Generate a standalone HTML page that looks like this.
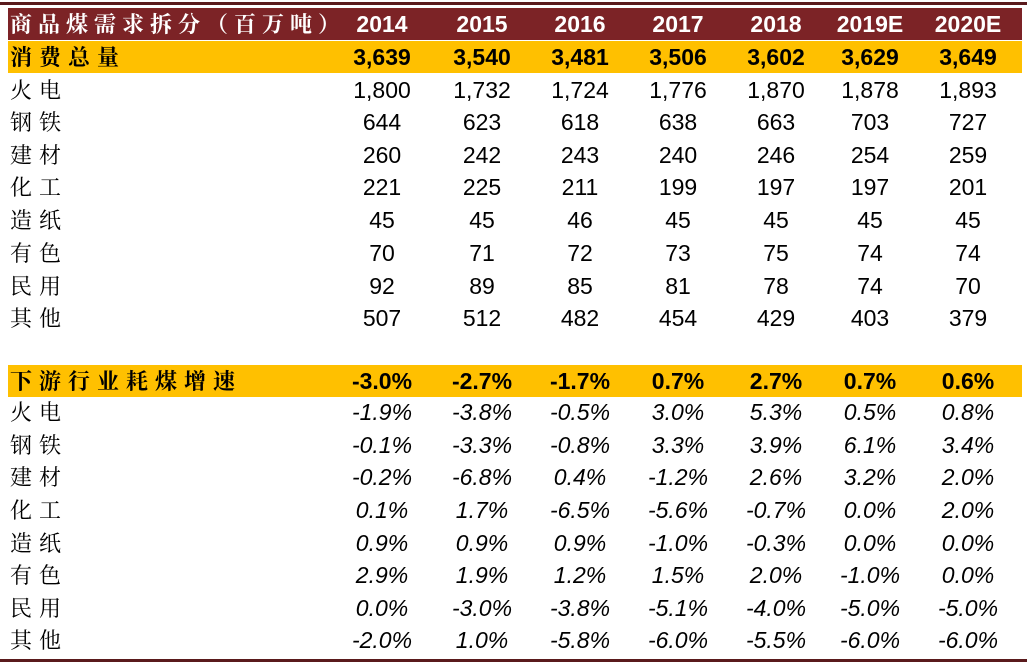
<!DOCTYPE html>
<html><head><meta charset="utf-8"><style>
body{margin:0;width:1027px;height:665px;background:#fff;position:relative;overflow:hidden;font-family:"Liberation Sans",Arial,sans-serif;}
.line{position:absolute;left:0;width:1027px;background:#5a1a1c;}
.bar{position:absolute;left:8px;width:1014px;}
.row{position:absolute;left:0;width:1027px;height:32px;line-height:32px;font-size:23px;color:#000;}
.row .l{position:absolute;left:10px;font-size:22px;font-family:"Noto Serif CJK SC","WenQuanYi Zen Hei",serif;letter-spacing:7px;}
.row .v{position:absolute;width:100px;text-align:center;}
.b{font-weight:bold;}
.i .v{font-style:italic;}
.hd{color:#fff;font-weight:bold;}
.hd .l{letter-spacing:6px;}
</style></head><body>
<div class="line" style="top:2px;height:3px"></div>
<div class="bar" style="top:8px;height:32px;background:#7c2326"></div>
<div class="bar" style="top:41px;height:32px;background:#ffc000"></div>
<div class="bar" style="top:365px;height:32px;background:#ffc000"></div>
<div class="line" style="top:659px;height:3px"></div>
<div id="rows"></div>
<script>
var cx=[382,482,580,678,776,870,968];
var data=[
[8,"商品煤需求拆分（百万吨）",["2014","2015","2016","2017","2018","2019E","2020E"],"hd"],
[41,"消费总量",["3,639","3,540","3,481","3,506","3,602","3,629","3,649"],"b"],
[74,"火电",["1,800","1,732","1,724","1,776","1,870","1,878","1,893"],""],
[106,"钢铁",["644","623","618","638","663","703","727"],""],
[139,"建材",["260","242","243","240","246","254","259"],""],
[171,"化工",["221","225","211","199","197","197","201"],""],
[204,"造纸",["45","45","46","45","45","45","45"],""],
[237,"有色",["70","71","72","73","75","74","74"],""],
[270,"民用",["92","89","85","81","78","74","70"],""],
[302,"其他",["507","512","482","454","429","403","379"],""],
[365,"下游行业耗煤增速",["-3.0%","-2.7%","-1.7%","0.7%","2.7%","0.7%","0.6%"],"b"],
[396,"火电",["-1.9%","-3.8%","-0.5%","3.0%","5.3%","0.5%","0.8%"],"i"],
[429,"钢铁",["-0.1%","-3.3%","-0.8%","3.3%","3.9%","6.1%","3.4%"],"i"],
[461,"建材",["-0.2%","-6.8%","0.4%","-1.2%","2.6%","3.2%","2.0%"],"i"],
[494,"化工",["0.1%","1.7%","-6.5%","-5.6%","-0.7%","0.0%","2.0%"],"i"],
[527,"造纸",["0.9%","0.9%","0.9%","-1.0%","-0.3%","0.0%","0.0%"],"i"],
[559,"有色",["2.9%","1.9%","1.2%","1.5%","2.0%","-1.0%","0.0%"],"i"],
[592,"民用",["0.0%","-3.0%","-3.8%","-5.1%","-4.0%","-5.0%","-5.0%"],"i"],
[624,"其他",["-2.0%","1.0%","-5.8%","-6.0%","-5.5%","-6.0%","-6.0%"],"i"]
];
var h="";
data.forEach(function(r){
 h+='<div class="row '+r[3]+'" style="top:'+r[0]+'px"><span class="l">'+r[1]+'</span>';
 r[2].forEach(function(v,i){h+='<span class="v" style="left:'+(cx[i]-50)+'px">'+v+'</span>';});
 h+='</div>';
});
document.getElementById("rows").innerHTML=h;
</script>
</body></html>
